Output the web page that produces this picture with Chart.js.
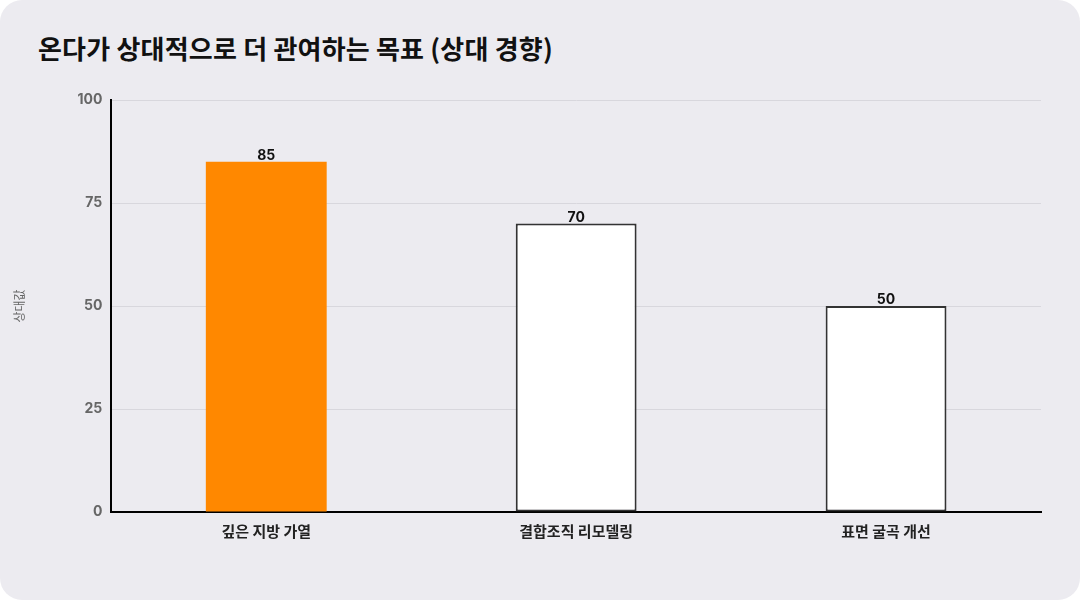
<!DOCTYPE html>
<html>
<head>
<meta charset="utf-8">
<script src="https://cdn.jsdelivr.net/npm/chart.js@4.4.1/dist/chart.umd.min.js"></script>
<style>
  html, body { margin: 0; padding: 0; background: #ffffff; }
  .card {
    position: absolute; left: 0; top: 0; width: 1080px; height: 600px;
    background: #ecebf0; border-radius: 22px; overflow: hidden;
  }
  .title {
    position: absolute; left: 38px; top: 29px; margin: 0;
    font-family: "Noto Sans CJK KR", "Noto Sans", sans-serif;
    font-weight: 700; font-size: 26px; color: #111111; letter-spacing: 0.2px;
  }
  canvas { position: absolute; left: 0; top: 0; }
</style>
</head>
<body>
<div class="card">
  <h1 class="title">온다가 상대적으로 더 관여하는 목표 (상대 경향)</h1>
  <canvas id="chartCanvas" width="1080" height="600"></canvas>
</div>
<script>
const categories = ["깊은 지방 가열", "결합조직 리모델링", "표면 굴곡 개선"];
const values = [85, 70, 50];
const barFills = ["#ff8800", "#ffffff", "#ffffff"];
const barBorders = ["#ff8800", "#333333", "#333333"];
const barBorderWidths = [0, 2, 2];
const yTicks = [0, 25, 50, 75, 100];
const yTitle = "상대값";

/* =========================
   Value labels above bars
========================= */
const valueLabelPlugin = {
  id: "valueLabels",
  afterDatasetsDraw: (chart) => {
    const ctx = chart.ctx;
    const meta = chart.getDatasetMeta(0);
    ctx.save();
    ctx.font = "700 14px Inter, 'Noto Sans', sans-serif";
    ctx.fillStyle = "#111111";
    ctx.textAlign = "center";
    ctx.textBaseline = "bottom";
    meta.data.forEach((bar, i) => {
      ctx.fillText(String(values[i]), bar.x, bar.y + 1);
    });
    ctx.restore();
  }
};

const ctx = document.getElementById("chartCanvas").getContext("2d");

new Chart(ctx, {
  type: "bar",
  data: {
    labels: categories,
    datasets: [{
      data: values,
      backgroundColor: barFills,
      borderColor: barBorders,
      borderWidth: barBorderWidths,
      borderSkipped: false,
      categoryPercentage: 0.8,
      barPercentage: 0.4875
    }]
  },
  options: {
    responsive: false,
    animation: false,
    layout: {
      padding: { top: 100, left: 12, right: 39, bottom: 50 }
    },
    plugins: {
      legend: { display: false },
      tooltip: { enabled: false },
      title: { display: false }
    },
    scales: {
      x: {
        grid: { display: false, drawTicks: false },
        border: { color: "#000000", width: 2 },
        ticks: {
          color: "#222222",
          padding: 10,
          font: { family: "'Noto Sans CJK KR', sans-serif", size: 15, weight: "700" }
        }
      },
      y: {
        min: 0,
        max: 100,
        afterBuildTicks: (axis) => {
          axis.ticks = yTicks.map(v => ({ value: v }));
        },
        grid: { color: "#d8d7dd", drawTicks: false },
        border: { color: "#000000", width: 2 },
        ticks: {
          color: "#666666",
          padding: 9,
          font: { family: "Inter, 'Noto Sans', sans-serif", size: 14, weight: "700" }
        },
        title: {
          display: true,
          text: yTitle,
          color: "#666666",
          padding: { top: 0, bottom: 42 },
          font: { family: "'Noto Sans CJK KR', sans-serif", size: 12 }
        }
      }
    }
  },
  plugins: [valueLabelPlugin]
});
</script>
</body>
</html>
